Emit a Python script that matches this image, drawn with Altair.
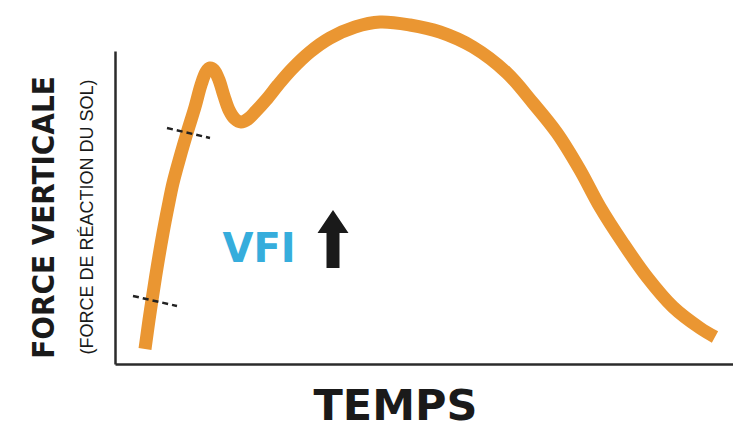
import altair as alt
import pandas as pd

# Curve (time vs vertical ground reaction force)
time = [30, 34, 37, 42, 48, 53, 58, 65, 72, 80, 86, 91, 95, 99, 104, 109, 114, 120, 126, 133,
        141, 151, 163, 177, 195, 215, 240, 265, 295, 325, 358, 392, 418, 442, 465, 485, 508,
        532, 558, 585, 600]
force = [15, 44, 64, 96, 131, 157, 181, 207, 231, 257, 279, 292, 296, 294, 284, 268, 254, 245,
         242, 245, 253, 264, 279, 295, 312, 326, 337, 342, 339, 332, 317, 291, 261, 231, 194,
         157, 121, 87, 57, 36, 27]

# Dashed marker segments crossing the curve
dash_t1 = [52, 18]
dash_f1 = [236, 68]
dash_t2 = [95, 62]
dash_f2 = [226, 58]

# Annotation
label_text = ["VFI"]
label_t = [144]
label_f = [102]
arrow_t = [218]
arrow_f = [125]

sub_text = ["(FORCE DE RÉACTION DU SOL)"]
sub_t = [-22]
sub_f = [147]

X_DOMAIN = [0, 618]
Y_DOMAIN = [0, 313]

curve_df = pd.DataFrame({"t": time, "f": force})
dash_df = pd.DataFrame({"t": dash_t1, "f": dash_f1, "t2": dash_t2, "f2": dash_f2})
label_df = pd.DataFrame({"t": label_t, "f": label_f, "txt": label_text})
arrow_df = pd.DataFrame({"t": arrow_t, "f": arrow_f})
sub_df = pd.DataFrame({"t": sub_t, "f": sub_f, "txt": sub_text})

xs = alt.Scale(domain=X_DOMAIN, nice=False, zero=False)
ys = alt.Scale(domain=Y_DOMAIN, nice=False, zero=False)

x_axis = alt.Axis(
    title="TEMPS", ticks=False, labels=False, grid=False,
    domainColor="#2b2b2b", domainWidth=2.5,
    titleFont="DejaVu Sans", titleFontWeight="bold", titleFontSize=43,
    titleColor="#1a1a1a", titleX=280, titleY=55, titleBaseline="alphabetic",
    titleAlign="center",
)
y_axis = alt.Axis(
    title="FORCE VERTICALE", ticks=False, labels=False, grid=False,
    domainColor="#2b2b2b", domainWidth=2.5,
    titleFont="Liberation Sans Narrow, DejaVu Sans Condensed, sans-serif",
    titleFontWeight="bold", titleFontSize=31, titleColor="#1a1a1a",
    titleX=-62, titleY=166, titleBaseline="alphabetic", titleAlign="center", titleAngle=270,
)

curve = alt.Chart(curve_df).mark_line(
    color="#EA9632", strokeWidth=13, interpolate="catmull-rom", strokeCap="butt"
).encode(
    x=alt.X("t:Q", scale=xs, axis=x_axis),
    y=alt.Y("f:Q", scale=ys, axis=y_axis),
)

dashes = alt.Chart(dash_df).mark_rule(
    color="#222222", strokeWidth=2.5, strokeDash=[6, 4]
).encode(
    x=alt.X("t:Q", scale=xs), y=alt.Y("f:Q", scale=ys),
    x2="t2:Q", y2="f2:Q",
)

label = alt.Chart(label_df).mark_text(
    font="DejaVu Sans", fontWeight="bold", fontSize=40, color="#36ADDC",
    align="center", baseline="alphabetic",
).encode(x=alt.X("t:Q", scale=xs), y=alt.Y("f:Q", scale=ys), text="txt:N")

arrow_path = "M0,-1L0.534,-0.207L0.224,-0.207L0.224,1L-0.224,1L-0.224,-0.207L-0.534,-0.207Z"
arrow = alt.Chart(arrow_df).mark_point(
    shape=arrow_path, size=3364, filled=True, color="#1a1a1a", opacity=1, strokeWidth=0,
).encode(x=alt.X("t:Q", scale=xs), y=alt.Y("f:Q", scale=ys))

sub = alt.Chart(sub_df).mark_text(
    font="Liberation Sans", fontSize=18, color="#1a1a1a", angle=270,
    align="center", baseline="alphabetic",
).encode(x=alt.X("t:Q", scale=xs), y=alt.Y("f:Q", scale=ys), text="txt:N")

chart = alt.layer(curve, dashes, label, arrow, sub).properties(
    width=618, height=313,
    autosize=alt.AutoSizeParams(type="none"),
    padding={"left": 107, "top": 43, "right": 0, "bottom": 64},
).configure_view(stroke=None)

chart.save("out.html", embed_options={"renderer": "svg", "actions": False})
